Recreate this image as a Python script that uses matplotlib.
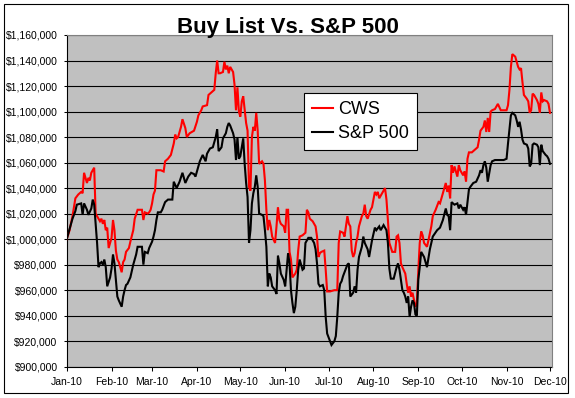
import matplotlib
matplotlib.use("Agg")
import matplotlib.pyplot as plt
import matplotlib.dates as mdates
from matplotlib.ticker import FuncFormatter, MultipleLocator
from matplotlib.patches import Rectangle
import pandas as pd

plt.rcParams['font.family'] = ['Liberation Sans', 'DejaVu Sans']

title = "Buy List Vs. S&P 500"
series_names = ["CWS", "S&P 500"]

cws_dates = [
    "2010-01-01", "2010-01-03", "2010-01-05", "2010-01-07", "2010-01-09", "2010-01-11", "2010-01-12",
    "2010-01-13", "2010-01-15", "2010-01-16", "2010-01-17", "2010-01-18", "2010-01-20", "2010-01-21",
    "2010-01-22", "2010-01-24", "2010-01-25", "2010-01-26", "2010-01-27", "2010-01-28", "2010-01-29",
    "2010-01-30", "2010-01-31", "2010-02-01", "2010-02-02", "2010-02-03", "2010-02-04", "2010-02-05",
    "2010-02-06", "2010-02-07", "2010-02-08", "2010-02-09", "2010-02-10", "2010-02-11", "2010-02-13",
    "2010-02-14", "2010-02-16", "2010-02-17", "2010-02-19", "2010-02-22", "2010-02-23", "2010-02-24",
    "2010-02-26", "2010-02-27", "2010-02-28", "2010-03-01", "2010-03-02", "2010-03-03", "2010-03-04",
    "2010-03-07", "2010-03-09", "2010-03-10", "2010-03-12", "2010-03-14", "2010-03-16", "2010-03-17",
    "2010-03-18", "2010-03-19", "2010-03-21", "2010-03-22", "2010-03-24", "2010-03-25", "2010-03-27",
    "2010-03-30", "2010-04-01", "2010-04-02", "2010-04-04", "2010-04-05", "2010-04-08", "2010-04-09",
    "2010-04-11", "2010-04-13", "2010-04-14", "2010-04-15", "2010-04-16", "2010-04-17", "2010-04-19",
    "2010-04-20", "2010-04-21", "2010-04-22", "2010-04-23", "2010-04-24", "2010-04-25", "2010-04-26",
    "2010-04-27", "2010-04-28", "2010-04-29", "2010-04-30", "2010-05-01", "2010-05-02", "2010-05-03",
    "2010-05-05", "2010-05-06", "2010-05-07", "2010-05-08", "2010-05-09", "2010-05-10", "2010-05-11",
    "2010-05-12", "2010-05-13", "2010-05-14", "2010-05-16", "2010-05-17", "2010-05-18", "2010-05-19",
    "2010-05-20", "2010-05-21", "2010-05-22", "2010-05-23", "2010-05-25", "2010-05-26", "2010-05-27",
    "2010-05-28", "2010-05-29", "2010-05-31", "2010-06-01", "2010-06-02", "2010-06-03", "2010-06-04",
    "2010-06-05", "2010-06-06", "2010-06-08", "2010-06-09", "2010-06-10", "2010-06-11", "2010-06-13",
    "2010-06-15", "2010-06-16", "2010-06-17", "2010-06-18", "2010-06-20", "2010-06-22", "2010-06-23",
    "2010-06-24", "2010-06-25", "2010-06-26", "2010-06-28", "2010-06-29", "2010-06-30", "2010-07-02",
    "2010-07-05", "2010-07-07", "2010-07-08", "2010-07-09", "2010-07-11", "2010-07-12", "2010-07-14",
    "2010-07-15", "2010-07-16", "2010-07-17", "2010-07-18", "2010-07-19", "2010-07-20", "2010-07-21",
    "2010-07-22", "2010-07-24", "2010-07-25", "2010-07-26", "2010-07-27", "2010-07-28", "2010-07-30",
    "2010-07-31", "2010-08-01", "2010-08-02", "2010-08-03", "2010-08-04", "2010-08-05", "2010-08-07",
    "2010-08-08", "2010-08-09", "2010-08-10", "2010-08-11", "2010-08-12", "2010-08-14", "2010-08-16",
    "2010-08-17", "2010-08-18", "2010-08-19", "2010-08-20", "2010-08-21", "2010-08-23", "2010-08-24",
    "2010-08-25", "2010-08-26", "2010-08-27", "2010-08-28", "2010-08-30", "2010-08-31", "2010-09-01",
    "2010-09-02", "2010-09-03", "2010-09-04", "2010-09-05", "2010-09-07", "2010-09-08", "2010-09-10",
    "2010-09-11", "2010-09-13", "2010-09-15", "2010-09-16", "2010-09-18", "2010-09-20", "2010-09-21",
    "2010-09-22", "2010-09-23", "2010-09-24", "2010-09-25", "2010-09-26", "2010-09-28", "2010-09-29",
    "2010-09-30", "2010-10-02", "2010-10-03", "2010-10-04", "2010-10-05", "2010-10-06", "2010-10-08",
    "2010-10-10", "2010-10-12", "2010-10-13", "2010-10-14", "2010-10-16", "2010-10-17", "2010-10-18",
    "2010-10-19", "2010-10-20", "2010-10-21", "2010-10-22", "2010-10-24", "2010-10-26", "2010-10-28",
    "2010-11-01", "2010-11-02", "2010-11-03", "2010-11-04", "2010-11-05", "2010-11-07", "2010-11-08",
    "2010-11-09", "2010-11-10", "2010-11-11", "2010-11-12", "2010-11-13", "2010-11-15", "2010-11-16",
    "2010-11-17", "2010-11-18", "2010-11-19", "2010-11-20", "2010-11-22", "2010-11-23", "2010-11-24",
    "2010-11-25", "2010-11-26", "2010-11-27", "2010-11-29", "2010-11-30", "2010-12-01",
]
cws_values = [
    1000000, 1007000, 1018000, 1032000, 1035000, 1037000, 1036000,
    1052000, 1044000, 1048000, 1046000, 1052000, 1056000, 1020000,
    1018000, 1014000, 1016000, 1012000, 1015000, 1007000, 1009000,
    993000, 997000, 1001000, 1015000, 1007000, 991000, 984000,
    982000, 978000, 974000, 982000, 984000, 990000, 993000,
    998000, 1007000, 1016000, 1023000, 1023000, 1015000, 1021000,
    1020000, 1021000, 1023000, 1028000, 1035000, 1038000, 1054000,
    1054000, 1053000, 1061000, 1063000, 1066000, 1075000, 1082000,
    1079000, 1080000, 1088000, 1094000, 1087000, 1080000, 1083000,
    1085000, 1092000, 1097000, 1101000, 1104000, 1105000, 1113000,
    1115000, 1117000, 1130000, 1140000, 1130000, 1130000, 1131000,
    1139000, 1133000, 1136000, 1130000, 1135000, 1133000, 1131000,
    1121000, 1101000, 1119000, 1100000, 1096000, 1108000, 1112000,
    1091000, 1085000, 1041000, 1038000, 1080000, 1088000, 1085000,
    1099000, 1085000, 1059000, 1061000, 1059000, 1046000, 1023000,
    1007000, 1015000, 1010000, 1002000, 997000, 1010000, 1025000,
    1015000, 1012000, 1010000, 1005000, 1023000, 1023000, 990000,
    984000, 970000, 973000, 976000, 991000, 1002000, 1003000,
    1005000, 1023000, 1021000, 1016000, 1014000, 1010000, 1002000,
    986000, 989000, 990000, 991000, 976000, 959000, 959000,
    960000, 960000, 997000, 1006000, 1005000, 1002000, 1018000,
    1012000, 1010000, 991000, 986000, 989000, 997000, 1002000,
    1010000, 1018000, 1020000, 1027000, 1018000, 1016000, 1023000,
    1025000, 1031000, 1037000, 1035000, 1037000, 1032000, 1036000,
    1038000, 1040000, 1031000, 1015000, 997000, 990000, 990000,
    1002000, 1003000, 997000, 981000, 978000, 973000, 965000,
    958000, 963000, 955000, 958000, 947000, 950000, 975000,
    997000, 1006000, 1003000, 997000, 994000, 999000, 1010000,
    1018000, 1023000, 1029000, 1028000, 1036000, 1044000, 1037000,
    1042000, 1032000, 1058000, 1052000, 1057000, 1049000, 1058000,
    1054000, 1050000, 1053000, 1045000, 1063000, 1068000, 1068000,
    1070000, 1072000, 1078000, 1085000, 1088000, 1093000, 1084000,
    1095000, 1084000, 1100000, 1101000, 1102000, 1106000, 1101000,
    1101000, 1105000, 1117000, 1135000, 1145000, 1143000, 1139000,
    1135000, 1133000, 1134000, 1123000, 1113000, 1110000, 1108000,
    1099000, 1101000, 1114000, 1113000, 1109000, 1106000, 1099000,
    1115000, 1108000, 1109000, 1108000, 1106000, 1099000,
]

sp_dates = [
    "2010-01-01", "2010-01-03", "2010-01-05", "2010-01-07", "2010-01-08", "2010-01-11", "2010-01-12",
    "2010-01-13", "2010-01-15", "2010-01-16", "2010-01-18", "2010-01-19", "2010-01-20", "2010-01-21",
    "2010-01-22", "2010-01-23", "2010-01-24", "2010-01-25", "2010-01-26", "2010-01-27", "2010-01-28",
    "2010-01-29", "2010-01-31", "2010-02-01", "2010-02-02", "2010-02-03", "2010-02-05", "2010-02-06",
    "2010-02-08", "2010-02-09", "2010-02-10", "2010-02-11", "2010-02-12", "2010-02-14", "2010-02-16",
    "2010-02-18", "2010-02-19", "2010-02-22", "2010-02-23", "2010-02-24", "2010-02-26", "2010-02-27",
    "2010-03-01", "2010-03-02", "2010-03-03", "2010-03-04", "2010-03-05", "2010-03-07", "2010-03-08",
    "2010-03-10", "2010-03-12", "2010-03-15", "2010-03-16", "2010-03-18", "2010-03-20", "2010-03-22",
    "2010-03-23", "2010-03-24", "2010-03-26", "2010-03-28", "2010-03-30", "2010-03-31", "2010-04-02",
    "2010-04-03", "2010-04-05", "2010-04-07", "2010-04-08", "2010-04-10", "2010-04-12", "2010-04-14",
    "2010-04-15", "2010-04-16", "2010-04-18", "2010-04-19", "2010-04-21", "2010-04-22", "2010-04-23",
    "2010-04-24", "2010-04-26", "2010-04-27", "2010-04-28", "2010-04-29", "2010-04-30", "2010-05-01",
    "2010-05-03", "2010-05-04", "2010-05-05", "2010-05-06", "2010-05-07", "2010-05-08", "2010-05-09",
    "2010-05-10", "2010-05-11", "2010-05-12", "2010-05-13", "2010-05-14", "2010-05-16", "2010-05-17",
    "2010-05-18", "2010-05-19", "2010-05-20", "2010-05-21", "2010-05-22", "2010-05-23", "2010-05-25",
    "2010-05-26", "2010-05-27", "2010-05-28", "2010-05-29", "2010-05-31", "2010-06-01", "2010-06-03",
    "2010-06-04", "2010-06-05", "2010-06-06", "2010-06-07", "2010-06-08", "2010-06-09", "2010-06-10",
    "2010-06-11", "2010-06-13", "2010-06-14", "2010-06-15", "2010-06-17", "2010-06-19", "2010-06-21",
    "2010-06-22", "2010-06-23", "2010-06-24", "2010-06-25", "2010-06-27", "2010-06-28", "2010-06-29",
    "2010-06-30", "2010-07-02", "2010-07-03", "2010-07-05", "2010-07-06", "2010-07-07", "2010-07-08",
    "2010-07-09", "2010-07-10", "2010-07-11", "2010-07-14", "2010-07-15", "2010-07-16", "2010-07-18",
    "2010-07-19", "2010-07-20", "2010-07-21", "2010-07-22", "2010-07-24", "2010-07-25", "2010-07-26",
    "2010-07-28", "2010-07-29", "2010-07-31", "2010-08-02", "2010-08-03", "2010-08-05", "2010-08-06",
    "2010-08-08", "2010-08-10", "2010-08-11", "2010-08-12", "2010-08-13", "2010-08-15", "2010-08-17",
    "2010-08-18", "2010-08-19", "2010-08-21", "2010-08-22", "2010-08-23", "2010-08-24", "2010-08-25",
    "2010-08-26", "2010-08-27", "2010-08-28", "2010-08-29", "2010-08-30", "2010-08-31", "2010-09-01",
    "2010-09-02", "2010-09-03", "2010-09-05", "2010-09-07", "2010-09-09", "2010-09-11", "2010-09-14",
    "2010-09-16", "2010-09-18", "2010-09-20", "2010-09-21", "2010-09-22", "2010-09-23", "2010-09-24",
    "2010-09-26", "2010-09-28", "2010-09-29", "2010-09-30", "2010-10-02", "2010-10-03", "2010-10-04",
    "2010-10-06", "2010-10-07", "2010-10-09", "2010-10-11", "2010-10-13", "2010-10-14", "2010-10-15",
    "2010-10-16", "2010-10-17", "2010-10-18", "2010-10-19", "2010-10-21", "2010-10-22", "2010-10-24",
    "2010-10-27", "2010-10-30", "2010-11-01", "2010-11-02", "2010-11-03", "2010-11-04", "2010-11-05",
    "2010-11-07", "2010-11-08", "2010-11-09", "2010-11-10", "2010-11-11", "2010-11-12", "2010-11-13",
    "2010-11-15", "2010-11-16", "2010-11-17", "2010-11-18", "2010-11-19", "2010-11-20", "2010-11-22",
    "2010-11-23", "2010-11-24", "2010-11-25", "2010-11-26", "2010-11-28", "2010-11-29", "2010-11-30",
    "2010-12-01",
]
sp_values = [
    1000000, 1008000, 1016000, 1022000, 1027000, 1028000, 1019000,
    1028000, 1023000, 1019000, 1024000, 1031000, 1027000, 1012000,
    997000, 978000, 981000, 982000, 980000, 984000, 978000,
    963000, 970000, 977000, 988000, 981000, 955000, 952000,
    947000, 955000, 960000, 964000, 965000, 970000, 980000,
    988000, 994000, 994000, 980000, 990000, 989000, 993000,
    998000, 1002000, 1007000, 1015000, 1021000, 1021000, 1023000,
    1029000, 1031000, 1031000, 1045000, 1040000, 1045000, 1052000,
    1048000, 1044000, 1049000, 1052000, 1051000, 1049000, 1057000,
    1061000, 1066000, 1061000, 1067000, 1071000, 1072000, 1080000,
    1086000, 1069000, 1072000, 1079000, 1083000, 1088000, 1091000,
    1089000, 1083000, 1078000, 1062000, 1080000, 1063000, 1065000,
    1079000, 1059000, 1044000, 1033000, 997000, 1007000, 1028000,
    1036000, 1041000, 1050000, 1041000, 1020000, 1019000, 1018000,
    1007000, 994000, 963000, 973000, 970000, 963000, 960000,
    957000, 987000, 981000, 973000, 968000, 963000, 989000,
    981000, 960000, 950000, 942000, 947000, 960000, 976000,
    984000, 976000, 977000, 997000, 1001000, 1001000, 997000,
    992000, 981000, 965000, 963000, 964000, 960000, 939000,
    926000, 920000, 917000, 920000, 924000, 939000, 958000,
    965000, 967000, 971000, 980000, 981000, 955000, 958000,
    963000, 958000, 976000, 986000, 994000, 1002000, 997000,
    992000, 986000, 999000, 1009000, 1007000, 1010000, 1007000,
    1011000, 1007000, 997000, 977000, 969000, 969000, 978000,
    981000, 976000, 960000, 958000, 955000, 950000, 955000,
    939000, 947000, 952000, 950000, 941000, 940000, 968000,
    978000, 990000, 986000, 978000, 992000, 1002000, 1007000,
    1009000, 1015000, 1024000, 1019000, 1018000, 1007000, 1029000,
    1027000, 1028000, 1024000, 1027000, 1023000, 1025000, 1019000,
    1039000, 1041000, 1044000, 1045000, 1050000, 1054000, 1052000,
    1058000, 1061000, 1056000, 1045000, 1058000, 1061000, 1062000,
    1062000, 1062000, 1063000, 1075000, 1086000, 1097000, 1099000,
    1097000, 1093000, 1088000, 1092000, 1086000, 1078000, 1075000,
    1074000, 1071000, 1057000, 1059000, 1074000, 1075000, 1074000,
    1072000, 1058000, 1074000, 1069000, 1066000, 1065000, 1063000,
    1059000,
]

month_ticks = pd.date_range("2010-01-01", "2010-12-01", freq="MS")
y_min, y_max, y_step = 900000, 1160000, 20000

W, H = 575, 398
fig = plt.figure(figsize=(W / 100, H / 100), dpi=100)
fig.patch.set_facecolor("white")

ax = fig.add_axes([66.7 / W, 1 - 366.7 / H, 485 / W, 331.7 / H])
ax.set_facecolor("#C0C0C0")

ax.plot(pd.to_datetime(cws_dates), cws_values, color="#FF0000", lw=1.5,
        label=series_names[0], solid_joinstyle="miter", zorder=3)
ax.plot(pd.to_datetime(sp_dates), sp_values, color="black", lw=1.5,
        label=series_names[1], solid_joinstyle="miter", zorder=4)

ax.set_ylim(y_min, y_max)
ax.yaxis.set_major_locator(MultipleLocator(y_step))
ax.yaxis.set_major_formatter(FuncFormatter(lambda v, p: f"${v:,.0f}"))
ax.yaxis.grid(True, color="black", lw=0.8)
ax.set_axisbelow(True)

start = pd.Timestamp("2010-01-01")
ax.set_xlim(start, start + pd.Timedelta(days=335.2))
ax.set_xticks(month_ticks)
ax.xaxis.set_major_formatter(mdates.DateFormatter("%b-%y"))

ax.tick_params(axis="x", direction="out", length=3, width=0.75, pad=4.6,
               labelsize=7.5, colors="black")
ax.tick_params(axis="y", direction="out", length=2, width=0.75, pad=4.5,
               labelsize=7.5, colors="black")

for side in ("left", "bottom"):
    ax.spines[side].set_color("black")
    ax.spines[side].set_linewidth(0.8)
for side in ("top", "right"):
    ax.spines[side].set_color("#808080")
    ax.spines[side].set_linewidth(0.8)
    ax.spines[side].set_zorder(5)

fig.text(0.5, 1 - 33.3 / H, title, ha="center", va="baseline",
         fontsize=16, fontweight="bold")

leg = fig.legend(loc="upper left", bbox_to_anchor=(304.3 / W, 1 - 93.3 / H),
                 bbox_transform=fig.transFigure, frameon=True, fancybox=False,
                 edgecolor="black", facecolor="white", framealpha=1,
                 fontsize=13, handlelength=1.15, handletextpad=0.25,
                 borderpad=0.45, labelspacing=0.38, borderaxespad=0)
leg.get_frame().set_linewidth(0.8)

fig.add_artist(Rectangle((4 / W, 1 - 393 / H), 564 / W, 389 / H,
                         transform=fig.transFigure, fill=False,
                         edgecolor="black", lw=0.8))

fig.savefig("out.png", dpi=100)
